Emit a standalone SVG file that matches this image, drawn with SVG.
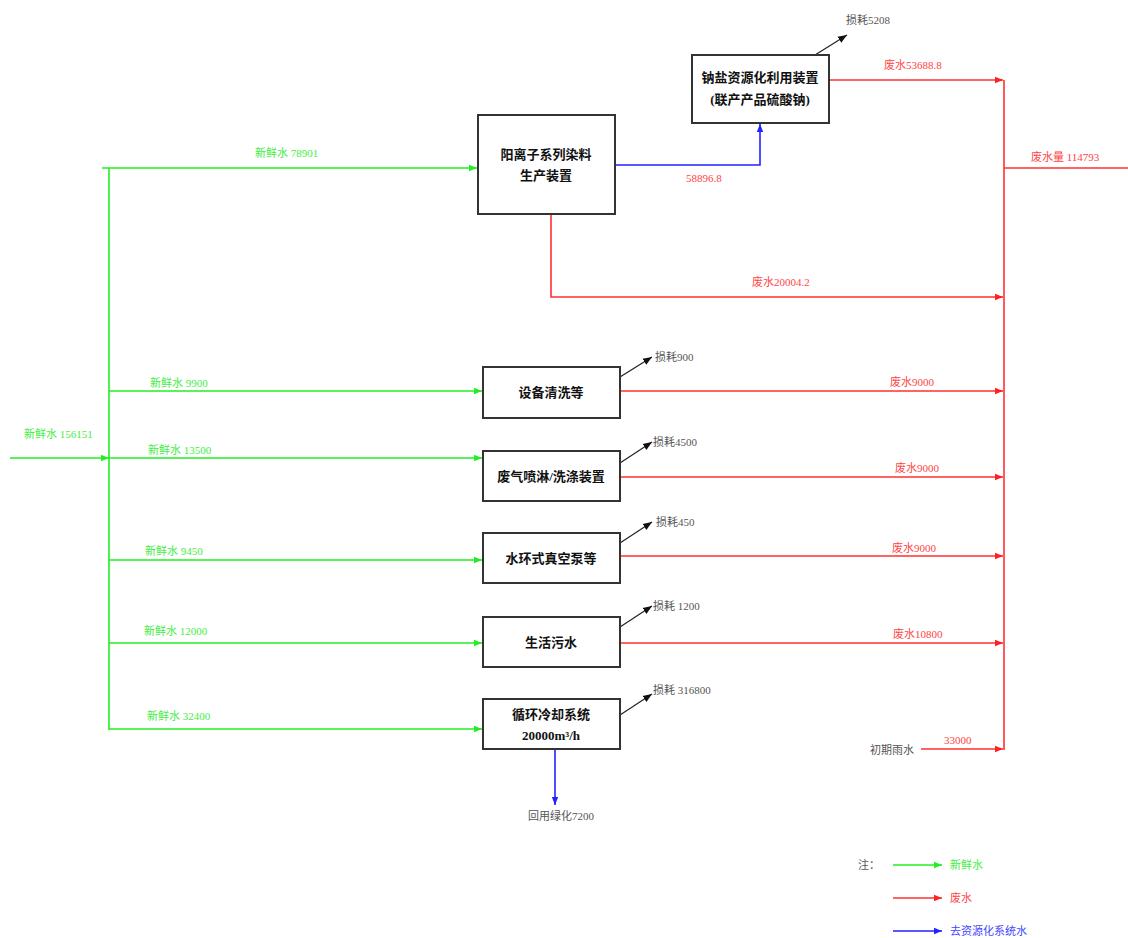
<svg xmlns="http://www.w3.org/2000/svg" width="1128" height="938" viewBox="0 0 1128 938">
<style>
text{font-family:"Liberation Serif","Noto Sans CJK SC",serif;}
.box{fill:#fff;stroke:#333;stroke-width:2;}
.bt{font-size:13px;font-weight:bold;fill:#111;text-anchor:middle;}
.g{stroke:#22ee22;stroke-width:1.6;fill:none;}
.r{stroke:#ff3030;stroke-width:1.6;fill:none;}
.b{stroke:#2222ff;stroke-width:1.6;fill:none;}
.k{stroke:#222;stroke-width:1.2;fill:none;}
.gt{font-size:11px;fill:#44ee44;}
.rt{font-size:11px;fill:#ff4444;}
.kt{font-size:11px;fill:#555;}
.bl{font-size:11px;fill:#4444ff;}
</style>
<defs>
<marker id="ag" viewBox="0 0 10 10" refX="10" refY="5" markerWidth="8" markerHeight="8" markerUnits="userSpaceOnUse" orient="auto"><path d="M0,1 L10,5 L0,9 z" fill="#22ee22"/></marker>
<marker id="ar" viewBox="0 0 10 10" refX="10" refY="5" markerWidth="8" markerHeight="8" markerUnits="userSpaceOnUse" orient="auto"><path d="M0,1 L10,5 L0,9 z" fill="#ff2020"/></marker>
<marker id="ab" viewBox="0 0 10 10" refX="10" refY="5" markerWidth="8" markerHeight="8" markerUnits="userSpaceOnUse" orient="auto"><path d="M0,1 L10,5 L0,9 z" fill="#2222ff"/></marker>
<marker id="ak" viewBox="0 0 10 10" refX="10" refY="5" markerWidth="9" markerHeight="9" markerUnits="userSpaceOnUse" orient="auto"><path d="M0,1 L10,5 L0,9 z" fill="#111"/></marker>
</defs>
<rect width="1128" height="938" fill="#fff"/>
<g id="connectors">
<!-- fresh water -->
<line class="g" x1="10" y1="458" x2="109" y2="458" marker-end="url(#ag)"/>
<line class="g" x1="109" y1="168" x2="109" y2="730"/>
<line class="g" x1="102" y1="168" x2="477" y2="168" marker-end="url(#ag)"/>
<line class="g" x1="109" y1="391" x2="482" y2="391" marker-end="url(#ag)"/>
<line class="g" x1="109" y1="458" x2="482" y2="458" marker-end="url(#ag)"/>
<line class="g" x1="109" y1="560" x2="482" y2="560" marker-end="url(#ag)"/>
<line class="g" x1="109" y1="643" x2="482" y2="643" marker-end="url(#ag)"/>
<line class="g" x1="109" y1="729" x2="482" y2="729" marker-end="url(#ag)"/>
<!-- blue -->
<polyline class="b" points="615,165 760,165 760,124" marker-end="url(#ab)"/>
<line class="b" x1="555" y1="749" x2="555" y2="805" marker-end="url(#ab)"/>
<!-- waste -->
<line class="r" x1="1004" y1="80" x2="1004" y2="750"/>
<line class="r" x1="1004" y1="168" x2="1128" y2="168"/>
<line class="r" x1="829" y1="80" x2="1003" y2="80" marker-end="url(#ar)"/>
<polyline class="r" points="551,214 551,297 1003,297" marker-end="url(#ar)"/>
<line class="r" x1="620" y1="391" x2="1003" y2="391" marker-end="url(#ar)"/>
<line class="r" x1="620" y1="477" x2="1003" y2="477" marker-end="url(#ar)"/>
<line class="r" x1="620" y1="556" x2="1003" y2="556" marker-end="url(#ar)"/>
<line class="r" x1="620" y1="643" x2="1003" y2="643" marker-end="url(#ar)"/>
<line class="r" x1="921" y1="749" x2="1003" y2="749" marker-end="url(#ar)"/>
<!-- losses -->
<line class="k" x1="815" y1="55" x2="847" y2="35" marker-end="url(#ak)"/>
<line class="k" x1="620" y1="377" x2="652" y2="357" marker-end="url(#ak)"/>
<line class="k" x1="620" y1="463" x2="652" y2="442" marker-end="url(#ak)"/>
<line class="k" x1="620" y1="543" x2="652" y2="522" marker-end="url(#ak)"/>
<line class="k" x1="620" y1="627" x2="652" y2="606" marker-end="url(#ak)"/>
<line class="k" x1="620" y1="715" x2="652" y2="694" marker-end="url(#ak)"/>
<!-- legend -->
<line class="g" x1="893" y1="865" x2="942" y2="865" marker-end="url(#ag)"/>
<line class="r" x1="893" y1="898" x2="942" y2="898" marker-end="url(#ar)"/>
<line class="b" x1="893" y1="931" x2="942" y2="931" marker-end="url(#ab)"/>
</g>
<g id="labels">
<text class="gt" x="255" y="157">新鲜水 78901</text>
<text class="gt" x="150" y="387">新鲜水 9900</text>
<text class="gt" x="24" y="438">新鲜水 156151</text>
<text class="gt" x="148" y="454">新鲜水 13500</text>
<text class="gt" x="145" y="555">新鲜水 9450</text>
<text class="gt" x="144" y="635">新鲜水 12000</text>
<text class="gt" x="147" y="720">新鲜水 32400</text>
<text class="kt" x="846" y="24">损耗5208</text>
<text class="rt" x="884" y="69">废水53688.8</text>
<text class="rt" x="1031" y="161">废水量 114793</text>
<text class="rt" x="686" y="182">58896.8</text>
<text class="rt" x="752" y="286">废水20004.2</text>
<text class="kt" x="655" y="361">损耗900</text>
<text class="rt" x="890" y="386">废水9000</text>
<text class="kt" x="653" y="446">损耗4500</text>
<text class="rt" x="895" y="472">废水9000</text>
<text class="kt" x="656" y="526">损耗450</text>
<text class="rt" x="892" y="552">废水9000</text>
<text class="kt" x="653" y="610">损耗 1200</text>
<text class="rt" x="893" y="638">废水10800</text>
<text class="kt" x="653" y="694">损耗 316800</text>
<text class="rt" x="944" y="744">33000</text>
<text class="kt" x="870" y="754">初期雨水</text>
<text class="kt" x="528" y="820">回用绿化7200</text>
<text class="kt" x="858" y="869">注：</text>
<text class="gt" x="950" y="869">新鲜水</text>
<text class="rt" x="950" y="902">废水</text>
<text class="bl" x="950" y="935">去资源化系统水</text>
</g>
<g id="n1"><rect class="box" x="478" y="115" width="137" height="99"/><text class="bt" x="546" y="159">阳离子系列染料</text><text class="bt" x="546" y="180">生产装置</text></g>
<g id="n2"><rect class="box" x="692" y="55" width="137" height="68"/><text class="bt" x="760" y="82">钠盐资源化利用装置</text><text class="bt" x="760" y="104">(联产产品硫酸钠)</text></g>
<g id="n3"><rect class="box" x="483" y="367" width="137" height="51"/><text class="bt" x="551" y="397">设备清洗等</text></g>
<g id="n4"><rect class="box" x="483" y="451" width="137" height="50"/><text class="bt" x="551" y="481">废气喷淋/洗涤装置</text></g>
<g id="n5"><rect class="box" x="483" y="533" width="137" height="50"/><text class="bt" x="551" y="563">水环式真空泵等</text></g>
<g id="n6"><rect class="box" x="483" y="617" width="137" height="50"/><text class="bt" x="551" y="647">生活污水</text></g>
<g id="n7"><rect class="box" x="483" y="699" width="137" height="50"/><text class="bt" x="551" y="719">循环冷却系统</text><text class="bt" x="551" y="740">20000m³/h</text></g>
</svg>
